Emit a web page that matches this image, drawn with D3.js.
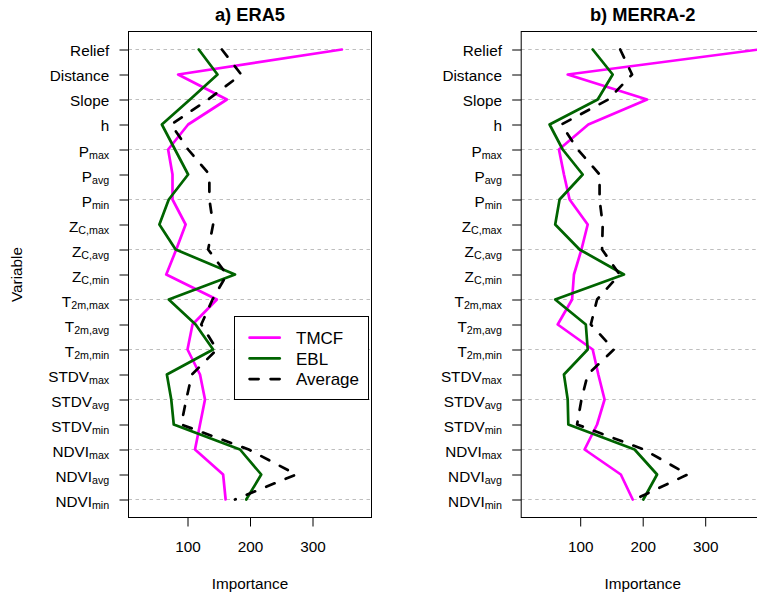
<!DOCTYPE html>
<html><head><meta charset="utf-8">
<script src="https://cdn.jsdelivr.net/npm/d3@7"></script>
<style>
body{margin:0;background:#fff}
text{font-family:"Liberation Sans",Arial,Helvetica,sans-serif;fill:#000}
</style>
</head><body>
<svg id="chart" width="757" height="597"></svg>
<script>
// ---------------- data ----------------
const variables = ["Relief","Distance","Slope","h","Pmax","Pavg","Pmin","ZCmax","ZCavg","ZCmin",
  "T2mmax","T2mavg","T2mmin","STDVmax","STDVavg","STDVmin","NDVImax","NDVIavg","NDVImin"];
const labelMain = ["Relief","Distance","Slope","h","P","P","P","Z","Z","Z","T","T","T",
  "STDV","STDV","STDV","NDVI","NDVI","NDVI"];
const labelSub = ["","","","","max","avg","min","C,max","C,avg","C,min","2m,max","2m,avg","2m,min",
  "max","avg","min","max","avg","min"];
const xTicks = [100, 200, 300];
const seriesNames = ["TMCF", "EBL", "Average"];
const panelTitles = ["a) ERA5", "b) MERRA-2"];

const era5TMCF = [347, 85, 163, 101, 69, 76, 76, 97, 82, 66, 147, 108, 100, 120, 128, 120, 112, 157, 161];
const era5EBL  = [118, 148, 104, 59, 80, 101, 70, 55, 81, 176, 70, 113, 141, 67, 74, 78, 184, 218, 194];
const era5Avg  = [155, 186, 133, 74, 101, 135, 135, 141, 133, 163, 140, 122, 147, 107, 98, 90, 198, 274, 176];

const merraTMCF = [386, 80, 207, 113, 66, 74, 83, 112, 102, 90, 87, 64, 120, 129, 139, 127, 107, 165, 184];
const merraEBL  = [120, 152, 128, 51, 72, 104, 67, 60, 99, 170, 60, 109, 112, 74, 80, 81, 187, 223, 201];
const merraAvg  = [164, 183, 145, 70, 96, 131, 131, 136, 135, 163, 127, 117, 154, 112, 102, 95, 202, 272, 187];

// ---------------- layout / style ----------------
const colors = ["#FF00FF", "#006400", "#000000"];
const dashes = [null, null, "9,12"];
const fontAxis = 15.3, fontSub = 10.7, fontTitle = 18.3, fontLegend = 17;
const plotTop = 31.5, plotBottom = 517.5, panelW = 243;
const xDomain = [5.6, 394.4];

const panels = [
  {title: panelTitles[0], left: 128.5, series: [era5TMCF, era5EBL, era5Avg], legend: true},
  {title: panelTitles[1], left: 521.2, series: [merraTMCF, merraEBL, merraAvg], legend: false}
];

const svg = d3.select("#chart");

panels.forEach((p, pi) => {
  const right = p.left + panelW;
  const x = d3.scaleLinear().domain(xDomain).range([p.left, right]);
  const y = d3.scalePoint().domain(variables).range([plotTop, plotBottom]).padding(0.72);

  const g = svg.append("g");
  const clipId = "clip" + pi;
  svg.append("clipPath").attr("id", clipId).append("rect")
    .attr("x", p.left).attr("y", plotTop).attr("width", panelW).attr("height", plotBottom - plotTop);

  // grid (every other row)
  g.append("g").selectAll("line").data(variables.filter((d, i) => i % 2 === 0)).join("line")
    .attr("x1", p.left).attr("x2", right)
    .attr("y1", d => y(d)).attr("y2", d => y(d))
    .attr("stroke", "#BEBEBE").attr("stroke-width", 1).attr("stroke-dasharray", "3.5,3.5");

  // series lines
  const line = d3.line().x(d => x(d.v)).y(d => y(d.k));
  p.series.forEach((vals, si) => {
    const pts = vals.map((v, i) => ({k: variables[i], v}));
    const path = g.append("path").datum(pts).attr("d", line)
      .attr("clip-path", `url(#${clipId})`)
      .attr("fill", "none").attr("stroke", colors[si]).attr("stroke-width", 2.7)
      .attr("stroke-linejoin", "round").attr("stroke-linecap", "round");
    if (dashes[si]) path.attr("stroke-dasharray", dashes[si]);
  });

  // box
  g.append("rect").attr("x", p.left).attr("y", plotTop).attr("width", panelW).attr("height", plotBottom - plotTop)
    .attr("fill", "none").attr("stroke", "#000").attr("stroke-width", 1);

  // bottom axis
  const xa = g.append("g").attr("transform", `translate(0,${plotBottom})`)
    .call(d3.axisBottom(x).tickValues(xTicks).tickSize(9).tickPadding(14.5).tickFormat(d3.format("d")));
  xa.select(".domain").remove();
  xa.selectAll("line").attr("stroke", "#000");
  xa.selectAll("text").attr("font-size", fontAxis).attr("font-family", null);

  // left axis
  const ya = g.append("g").attr("transform", `translate(${p.left},0)`)
    .call(d3.axisLeft(y).tickSize(9).tickPadding(10.3));
  ya.select(".domain").remove();
  ya.selectAll("line").attr("stroke", "#000");
  ya.selectAll(".tick text").each(function(d) {
    const i = variables.indexOf(d);
    const t = d3.select(this).text(null).attr("font-size", fontAxis).attr("font-family", null)
      .attr("dy", labelSub[i] ? "0.43em" : "0.37em");
    t.append("tspan").text(labelMain[i]);
    if (labelSub[i]) t.append("tspan").attr("font-size", fontSub).attr("dy", 2.5).text(labelSub[i]);
  });

  // title
  svg.append("text").attr("x", (p.left + right) / 2).attr("y", 21).attr("text-anchor", "middle")
    .attr("font-size", fontTitle).attr("font-weight", "bold").text(p.title);
  // x label
  svg.append("text").attr("x", (p.left + right) / 2).attr("y", 589).attr("text-anchor", "middle")
    .attr("font-size", fontAxis).text("Importance");

  // legend
  if (p.legend) {
    const lg = svg.append("g");
    lg.append("rect").attr("x", 234.5).attr("y", 316.5).attr("width", 134).attr("height", 83)
      .attr("fill", "#fff").attr("stroke", "#000").attr("stroke-width", 1);
    const rows = [337.7, 358.4, 379.1];
    seriesNames.forEach((n, si) => {
      const l = lg.append("line").attr("x1", 249.6).attr("x2", 279.7).attr("y1", rows[si]).attr("y2", rows[si])
        .attr("stroke", colors[si]).attr("stroke-width", 2.7).attr("stroke-linecap", "round");
      if (dashes[si]) l.attr("stroke-dasharray", dashes[si]);
      lg.append("text").attr("x", 296).attr("y", rows[si]).attr("dy", "0.36em")
        .attr("font-size", fontLegend).text(n);
    });
  }
});

// y label
svg.append("text").attr("transform", "translate(21.5,274.5) rotate(-90)").attr("text-anchor", "middle")
  .attr("font-size", fontAxis).text("Variable");
</script>
</body></html>
